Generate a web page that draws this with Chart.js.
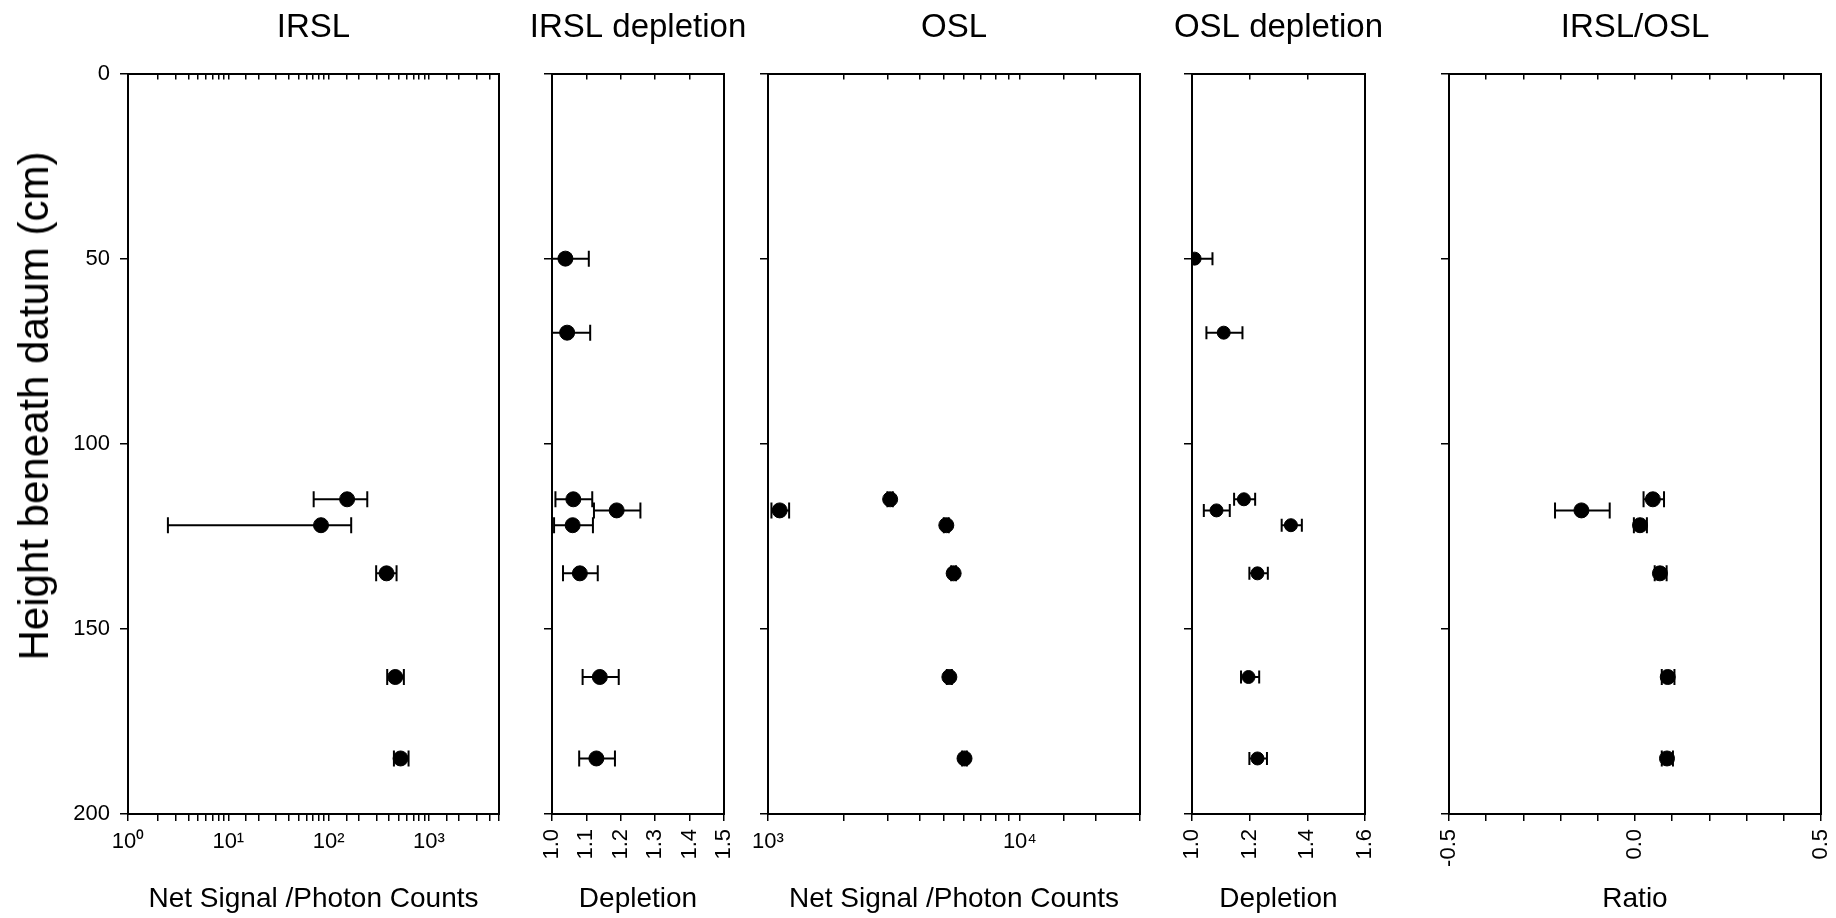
<!DOCTYPE html>
<html>
<head>
<meta charset="utf-8">
<script src="https://cdn.jsdelivr.net/npm/chart.js@4.4.0/dist/chart.umd.min.js"></script>
<style>
  html, body { margin: 0; padding: 0; background: #fff; overflow: hidden; }
  #wrap { position: relative; width: 1836px; height: 918px; overflow: hidden; }
  canvas { position: absolute; top: 0; }
  #ytitle {
    position: absolute; left: 34px; top: 406px;
    transform: translate(-50%, -50%) rotate(-90deg);
    font: 42px "Liberation Sans", Arial, sans-serif; white-space: nowrap; color: #000;
  }
</style>
</head>
<body>
<div id="wrap">
  <canvas id="irsl"></canvas>
  <canvas id="irslDep"></canvas>
  <canvas id="osl"></canvas>
  <canvas id="oslDep"></canvas>
  <canvas id="ratio"></canvas>
  <div id="ytitle">Height beneath datum (cm)</div>
</div>
<script>
// depths (cm below datum)
const irslDepth = [115, 122, 135, 163, 185];
const depletionDepth = [50, 70, 115, 118, 122, 135, 163, 185];
const oslDepth = [115, 118, 122, 135, 163, 185];

// IRSL net signal (photon counts) with error range
const irslValue = [153, 84, 378, 462, 522];
const irslLow = [71, 2.5, 298, 384, 448];
const irslHigh = [243, 168, 476, 563, 627];

// IRSL depletion
const irslDepValue = [1.039, 1.044, 1.062, 1.188, 1.060, 1.081, 1.139, 1.129];
const irslDepLow = [0.971, 0.977, 1.010, 1.122, 1.006, 1.032, 1.089, 1.079];
const irslDepHigh = [1.107, 1.111, 1.117, 1.257, 1.119, 1.133, 1.194, 1.183];

// OSL net signal
const oslValue = [3055, 1113, 5105, 5460, 5250, 6030];
const oslLow = [2980, 1032, 4990, 5340, 5130, 5900];
const oslHigh = [3130, 1213, 5220, 5580, 5370, 6160];

// OSL depletion
const oslDepValue = [1.009, 1.110, 1.180, 1.085, 1.343, 1.227, 1.196, 1.227];
const oslDepLow = [0.947, 1.050, 1.146, 1.041, 1.311, 1.199, 1.170, 1.199];
const oslDepHigh = [1.071, 1.175, 1.219, 1.131, 1.381, 1.263, 1.233, 1.260];

// IRSL/OSL ratio
const ratioValue = [0.048, -0.144, 0.0135, 0.067, 0.088, 0.086];
const ratioLow = [0.023, -0.215, -0.003, 0.053, 0.072, 0.072];
const ratioHigh = [0.078, -0.068, 0.032, 0.085, 0.106, 0.102];

const depthTicks = [0, 50, 100, 150, 200];

const FONT = '"Liberation Sans", Arial, sans-serif';
Chart.defaults.font.family = FONT;
Chart.defaults.color = '#000';

const sup = { '0': '\u2070', '1': '\u00b9', '2': '\u00b2', '3': '\u00b3', '4': '\u2074', '5': '\u2075' };
function powerLabel(v) {
  const e = Math.log10(v);
  if (Math.abs(e - Math.round(e)) < 1e-9) return '10' + String(Math.round(e)).split('').map(c => sup[c]).join('');
  return '';
}

function points(ys, xs, r) {
  return {
    data: ys.map((y, i) => ({ x: xs[i], y })),
    pointRadius: r, pointBackgroundColor: '#000', pointBorderColor: '#000', pointBorderWidth: 1,
    showLine: false, order: 0
  };
}
function errorBars(ys, lo, hi, cap) {
  return ys.map((y, i) => ({
    data: [{ x: lo[i], y }, { x: hi[i], y }],
    showLine: true, borderColor: '#000', borderWidth: 2,
    pointStyle: 'line', pointRotation: 90, pointRadius: cap,
    pointBorderWidth: 2, pointBorderColor: '#000', order: 1
  }));
}

const TOP = 73.5, H = 918, BOTTOM = 814;

// canvas is symmetric around the plot so the full-width title stays centred on it;
// the left and right axis boxes each take `pad` pixels
function panel(id, c) {
  const cv = document.getElementById(id);
  const w = 2 * c.pad + (c.right - c.left);
  cv.width = w; cv.height = H;
  cv.style.left = (c.left - c.pad) + 'px';
  cv.style.width = w + 'px'; cv.style.height = H + 'px';

  const xBase = { type: c.type, min: c.min, max: c.max };
  const tickCfg = { stepSize: c.step, autoSkip: false };

  new Chart(cv, {
    type: 'scatter',
    data: { datasets: [...c.bars, c.dots] },
    options: {
      responsive: false, animation: false, events: [],
      layout: { padding: 0 },
      plugins: {
        legend: { display: false }, tooltip: { enabled: false },
        title: {
          display: true, text: c.title, fullSize: true, color: '#000',
          font: { size: 33, weight: 'normal', family: FONT, lineHeight: 1.2 },
          padding: { top: 7.9, bottom: TOP - 7.9 - 39.6 }
        }
      },
      scales: {
        x: Object.assign({}, xBase, {
          position: 'bottom',
          border: { color: '#000', width: 2 },
          grid: { drawOnChartArea: false, drawTicks: true, tickLength: 7, color: '#000', lineWidth: 1.5 },
          ticks: Object.assign({}, tickCfg, {
            color: '#000', font: { size: 22 }, padding: 8,
            maxRotation: c.rot, minRotation: c.rot, callback: c.label
          }),
          title: { display: true, text: c.xTitle, color: '#000', font: { size: 28 }, padding: { top: 0, bottom: 2 } },
          afterFit: s => { s.height = H - BOTTOM; }
        }),
        x2: Object.assign({}, xBase, {
          position: 'top',
          border: { color: '#000', width: 2 },
          grid: { drawOnChartArea: false, drawTicks: true, tickLength: -6, color: '#000', lineWidth: 1.5 },
          ticks: Object.assign({}, tickCfg, { display: false }),
          afterFit: s => { s.height = 0; }
        }),
        y: {
          type: 'linear', position: 'left', reverse: true, min: 0, max: 200,
          border: { color: '#000', width: 2 },
          grid: { drawOnChartArea: false, drawTicks: true, tickLength: 8, color: '#000', lineWidth: 1.5 },
          afterBuildTicks: s => { s.ticks = depthTicks.map(v => ({ value: v })); },
          ticks: { display: c.yLabels, color: '#000', font: { size: 22 }, padding: 10 },
          afterFit: s => { s.width = c.pad; }
        },
        y2: {
          type: 'linear', position: 'right', reverse: true, min: 0, max: 200,
          border: { color: '#000', width: 2 },
          grid: { drawOnChartArea: false, drawTicks: false },
          ticks: { display: false },
          afterFit: s => { s.width = c.pad; }
        }
      }
    }
  });
}

const rounded = v => v.toFixed(1);

panel('irsl', {
  left: 128, right: 499, pad: 128, type: 'logarithmic', min: 1, max: 5000,
  rot: 0, label: powerLabel, title: 'IRSL', xTitle: 'Net Signal /Photon Counts', yLabels: true,
  dots: points(irslDepth, irslValue, 7.5), bars: errorBars(irslDepth, irslLow, irslHigh, 8)
});
panel('irslDep', {
  left: 552, right: 724, pad: 45, type: 'linear', min: 1.0, max: 1.5, step: 0.1,
  rot: 90, label: rounded, title: 'IRSL depletion', xTitle: 'Depletion', yLabels: false,
  dots: points(depletionDepth, irslDepValue, 7.5), bars: errorBars(depletionDepth, irslDepLow, irslDepHigh, 8)
});
panel('osl', {
  left: 768, right: 1140, pad: 45, type: 'logarithmic', min: 1000, max: 30000,
  rot: 0, label: powerLabel, title: 'OSL', xTitle: 'Net Signal /Photon Counts', yLabels: false,
  dots: points(oslDepth, oslValue, 7.5), bars: errorBars(oslDepth, oslLow, oslHigh, 8)
});
panel('oslDep', {
  left: 1192, right: 1365, pad: 45, type: 'linear', min: 1.0, max: 1.6, step: 0.2,
  rot: 90, label: rounded, title: 'OSL depletion', xTitle: 'Depletion', yLabels: false,
  dots: points(depletionDepth, oslDepValue, 6.5), bars: errorBars(depletionDepth, oslDepLow, oslDepHigh, 6.5)
});
panel('ratio', {
  left: 1449, right: 1821, pad: 45, type: 'linear', min: -0.5, max: 0.5, step: 0.1,
  rot: 90, label: v => (Math.abs(v * 2 - Math.round(v * 2)) < 1e-6 ? (Math.abs(v) < 1e-9 ? 0 : v).toFixed(1) : ''),
  title: 'IRSL/OSL', xTitle: 'Ratio', yLabels: false,
  dots: points(oslDepth, ratioValue, 7.5), bars: errorBars(oslDepth, ratioLow, ratioHigh, 8)
});
</script>
</body>
</html>
